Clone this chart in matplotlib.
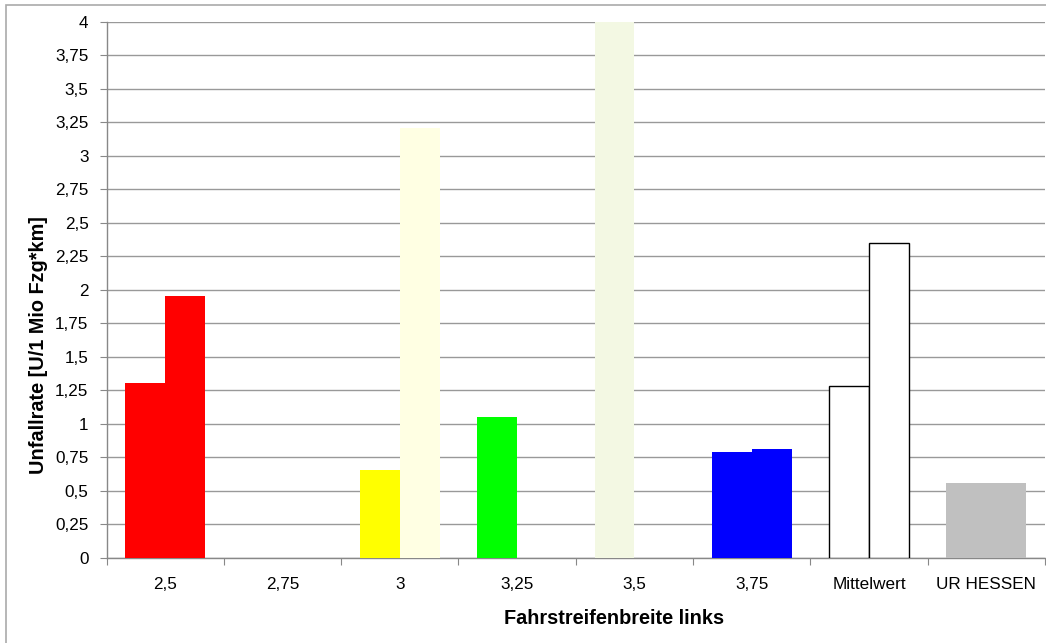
import matplotlib
matplotlib.use("Agg")
import matplotlib.pyplot as plt
from matplotlib.patches import Rectangle
from matplotlib.ticker import FuncFormatter, FixedLocator
import numpy as np

plt.rcParams["font.family"] = ["Liberation Sans", "DejaVu Sans"]

categories = ["2,5", "2,75", "3", "3,25", "3,5", "3,75", "Mittelwert", "UR HESSEN"]
first_values = [1.30, 0.0, 0.65, 1.05, 4.00, 0.79, 1.28, 0.56]
second_values = [1.95, 0.0, 3.21, 0.0, 0.0, 0.81, 2.35, 0.56]
first_colors = ["#FF0000", "#FF0000", "#FFFF00", "#00FF00", "#F3F8E3", "#0000FF", "#FFFFFF", "#C0C0C0"]
second_colors = ["#FF0000", "#FF0000", "#FFFFE3", "#00FF00", "#F3F8E3", "#0000FF", "#FFFFFF", "#C0C0C0"]
edge_colors = ["none", "none", "none", "none", "none", "none", "#000000", "none"]

W, H = 1046, 643
fig = plt.figure(figsize=(W / 100, H / 100), dpi=100)
fig.patch.set_facecolor("white")

left, right, top, bottom = 106.5, 1045, 22, 557.5
ax = fig.add_axes([left / W, 1 - bottom / H, (right - left) / W, (bottom - top) / H])

x = np.arange(len(categories)) + 0.5
bw = 0.34
for i in range(len(categories)):
    lw = 1.0 if edge_colors[i] != "none" else 0
    ax.bar(x[i] - bw / 2, first_values[i], width=bw, color=first_colors[i],
           edgecolor=edge_colors[i], linewidth=lw, zorder=3)
    ax.bar(x[i] + bw / 2, second_values[i], width=bw, color=second_colors[i],
           edgecolor=edge_colors[i], linewidth=lw, zorder=3)

ax.set_xlim(0, len(categories))
ax.set_ylim(0, 4)

yt = np.arange(0, 4.01, 0.25)
ax.yaxis.set_major_locator(FixedLocator(yt))
ax.yaxis.set_major_formatter(FuncFormatter(lambda v, p: f"{v:g}".replace(".", ",")))
ax.grid(axis="y", color="#999999", linewidth=1.0, zorder=0)
ax.set_axisbelow(True)

ax.xaxis.set_major_locator(FixedLocator(np.arange(0, len(categories) + 1)))
ax.xaxis.set_major_formatter(FuncFormatter(lambda v, p: ""))
ax.xaxis.set_minor_locator(FixedLocator(x))
ax.set_xticklabels(categories, minor=True)
ax.tick_params(axis="x", which="minor", length=0, pad=14, labelsize=12.3)
ax.tick_params(axis="x", which="major", length=5, color="#888888", direction="out")
ax.tick_params(axis="y", length=5, color="#888888", direction="out", pad=8, labelsize=12.3)

for s in ["top", "right"]:
    ax.spines[s].set_visible(False)
for s in ["left", "bottom"]:
    ax.spines[s].set_color("#888888")
    ax.spines[s].set_linewidth(1.0)

fig.text(39 / W, 1 - 345 / H, "Unfallrate [U/1 Mio Fzg*km]", rotation=90,
         ha="center", va="center", fontsize=14.3, fontweight="bold")
fig.text(614 / W, 1 - 619 / H, "Fahrstreifenbreite links",
         ha="center", va="center", fontsize=14.3, fontweight="bold")

# outer chart frame
fig.patches.append(Rectangle((6 / W, -0.05), 1.2, 1 - 5 / H + 0.05,
                             transform=fig.transFigure, fill=False,
                             edgecolor="#AAAAAA", linewidth=1.2))

fig.savefig("out.png", dpi=100)
